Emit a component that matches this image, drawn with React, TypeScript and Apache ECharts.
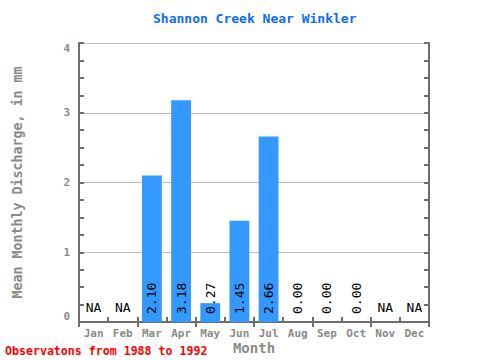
import React, { useEffect, useRef } from "react";
import * as echarts from "echarts";

const months = ["Jan", "Feb", "Mar", "Apr", "May", "Jun", "Jul", "Aug", "Sep", "Oct", "Nov", "Dec"];
const values: (number | null)[] = [null, null, 2.1, 3.18, 0.27, 1.45, 2.66, 0.0, 0.0, 0.0, null, null];
const yTicks = [0, 1, 2, 3, 4];

const FONT = "DejaVu Sans Mono";
const AXIS = "#6e6e6e";
const LABEL = "#8a8a8a";

export default function App() {
  const ref = useRef<HTMLDivElement>(null);
  useEffect(() => {
    if (!ref.current) return;
    const chart = echarts.init(ref.current, null, { renderer: "svg" });
    const data = values.map((v) =>
      v === null
        ? {
            value: 0,
            label: {
              show: true,
              formatter: "NA",
              rotate: 0,
              position: "insideBottom",
              distance: 8,
              align: "center",
              verticalAlign: "bottom",
            },
          }
        : { value: v }
    );
    chart.setOption({
      animation: false,
      title: {
        text: "Shannon Creek Near Winkler",
        left: 148,
        top: 7,
        textStyle: { fontFamily: FONT, fontSize: 13, fontWeight: "bold", color: "#0a6cff" },
      },
      graphic: [
        {
          type: "text",
          left: 5,
          top: 345,
          style: {
            text: "Observatons from 1988 to 1992",
            font: `bold 11.6px "${FONT}"`,
            fill: "#ff0000",
          },
        },
      ],
      grid: { left: 79, right: 51, top: 43, bottom: 38, outerBoundsMode: "none" },
      xAxis: [
        {
          type: "category",
          data: months,
          position: "bottom",
          name: "Month",
          nameLocation: "middle",
          nameGap: 19,
          nameMoveOverlap: false,
          nameTextStyle: { fontFamily: FONT, fontSize: 14, fontWeight: "bold", color: LABEL },
          axisLine: { show: true, lineStyle: { color: AXIS, width: 2 } },
          axisTick: { show: true, inside: true, length: 5, alignWithLabel: false, lineStyle: { color: AXIS, width: 2 } },
          axisLabel: { fontFamily: FONT, fontSize: 11, fontWeight: "bold", color: LABEL, margin: 6 },
          splitLine: { show: false },
        },
        {
          type: "category",
          data: months,
          position: "top",
          axisLine: { show: true, lineStyle: { color: AXIS, width: 2 } },
          axisTick: { show: true, inside: true, length: 5, lineStyle: { color: AXIS, width: 2 } },
          axisLabel: { show: false },
          splitLine: { show: false },
        },
      ],
      yAxis: [
        {
          type: "value",
          min: 0,
          max: 4,
          interval: 1,
          name: "Mean Monthly Discharge, in mm",
          nameLocation: "middle",
          nameGap: 55,
          nameMoveOverlap: false,
          nameTextStyle: { fontFamily: FONT, fontSize: 13.3, fontWeight: "bold", color: LABEL },
          axisLine: { show: true, lineStyle: { color: AXIS, width: 2 } },
          axisTick: { show: true, inside: true, length: 5, lineStyle: { color: AXIS, width: 2 } },
          minorTick: { show: true, splitNumber: 4, length: 5, lineStyle: { color: AXIS, width: 2 } },
          axisLabel: {
            fontFamily: FONT,
            fontSize: 11,
            fontWeight: "bold",
            color: LABEL,
            margin: 9,
            verticalAlignMinLabel: "bottom",
            verticalAlignMaxLabel: "top",
            formatter: (v: number) => (yTicks.includes(v) ? String(v) : ""),
          },
          splitLine: { show: true, lineStyle: { color: "#bdbdbd", width: 1 } },
        },
        {
          type: "value",
          min: 0,
          max: 4,
          interval: 1,
          position: "right",
          axisLine: { show: true, lineStyle: { color: AXIS, width: 2 } },
          axisTick: { show: true, inside: true, length: 5, lineStyle: { color: AXIS, width: 2 } },
          minorTick: { show: true, splitNumber: 4, length: 5, lineStyle: { color: AXIS, width: 2 } },
          axisLabel: { show: false },
          splitLine: { show: false },
        },
      ],
      series: [
        {
          type: "bar",
          data,
          barWidth: "68%",
          itemStyle: { color: "#3399ff" },
          label: {
            show: true,
            position: "insideBottom",
            rotate: 90,
            distance: 8,
            align: "left",
            verticalAlign: "middle",
            fontFamily: FONT,
            fontSize: 13,
            color: "#000000",
            formatter: (p: any) => Number(p.value).toFixed(2),
          },
        },
      ],
    });
    return () => chart.dispose();
  }, []);
  return <div ref={ref} style={{ width: 480, height: 360, position: "absolute", left: 0, top: 0 }} />;
}
